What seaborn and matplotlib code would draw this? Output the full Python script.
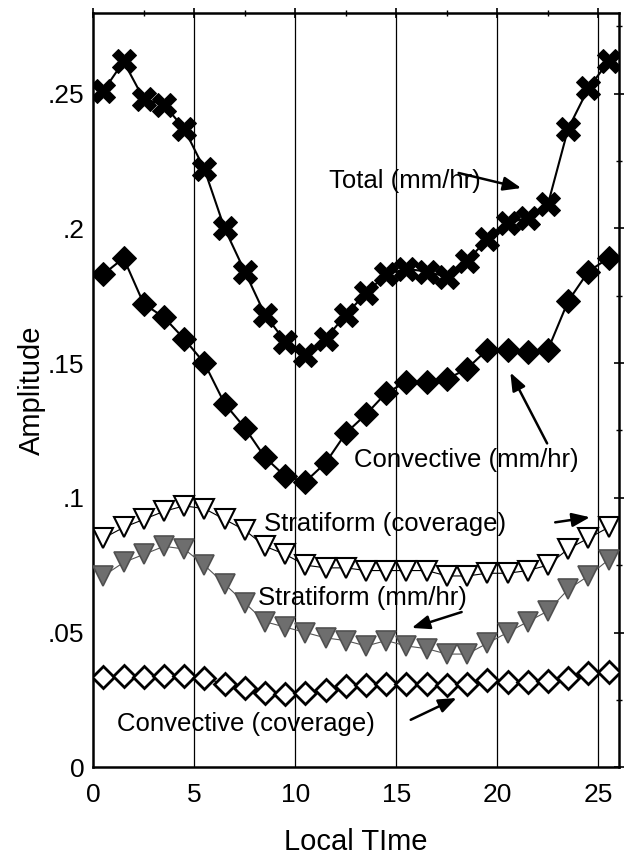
import numpy as np
import pandas as pd
import matplotlib
matplotlib.use("Agg")
import matplotlib.pyplot as plt
import seaborn as sns

# local hour (0.5 .. 23.5, then 24.5 / 25.5 repeat the first two hours)
hours = [0.5, 1.5, 2.5, 3.5, 4.5, 5.5, 6.5, 7.5, 8.5, 9.5, 10.5, 11.5, 12.5,
         13.5, 14.5, 15.5, 16.5, 17.5, 18.5, 19.5, 20.5, 21.5, 22.5, 23.5, 24.5, 25.5]

total_rain = [0.251, 0.262, 0.248, 0.246, 0.237, 0.222, 0.200, 0.184, 0.168, 0.158,
              0.153, 0.159, 0.168, 0.176, 0.183, 0.185, 0.184, 0.182, 0.188, 0.196,
              0.202, 0.204, 0.209, 0.237, 0.252, 0.262]
conv_rain = [0.183, 0.189, 0.172, 0.167, 0.159, 0.150, 0.135, 0.126, 0.115, 0.108,
             0.106, 0.113, 0.124, 0.131, 0.139, 0.143, 0.143, 0.144, 0.148, 0.155,
             0.155, 0.154, 0.155, 0.173, 0.184, 0.189]
strat_cov = [0.085, 0.089, 0.092, 0.095, 0.097, 0.096, 0.092, 0.088, 0.082, 0.079,
             0.075, 0.074, 0.074, 0.073, 0.073, 0.073, 0.073, 0.071, 0.071, 0.072,
             0.072, 0.073, 0.075, 0.081, 0.085, 0.089]
strat_rain = [0.071, 0.076, 0.079, 0.082, 0.081, 0.075, 0.068, 0.061, 0.054, 0.052,
              0.050, 0.048, 0.047, 0.045, 0.047, 0.045, 0.044, 0.042, 0.042, 0.046,
              0.050, 0.054, 0.058, 0.066, 0.071, 0.077]
conv_cov = [0.0335, 0.034, 0.0335, 0.034, 0.034, 0.033, 0.031, 0.0294, 0.0275, 0.027,
            0.0276, 0.0287, 0.030, 0.0306, 0.031, 0.031, 0.031, 0.0306, 0.031, 0.0324,
            0.0317, 0.0317, 0.032, 0.033, 0.035, 0.0354]

yticks = [0, 0.05, 0.1, 0.15, 0.2, 0.25]
ytick_labels = ["0", ".05", ".1", ".15", ".2", ".25"]
xticks = [0, 5, 10, 15, 20, 25]

sns.set_theme(style="white")
plt.rcParams["font.family"] = ["Liberation Sans", "DejaVu Sans"]
plt.rcParams["text.color"] = "black"
plt.rcParams["axes.labelcolor"] = "black"
plt.rcParams["xtick.color"] = "black"
plt.rcParams["ytick.color"] = "black"

fig, ax = plt.subplots(figsize=(6.3, 8.63), dpi=100)
fig.subplots_adjust(left=0.148, right=0.982, top=0.985, bottom=0.111)

for xv in [5, 10, 15, 20, 25]:
    ax.axvline(xv, color="black", lw=0.9, zorder=1)

df = pd.DataFrame({"hour": hours, "total": total_rain, "conv": conv_rain,
                   "scov": strat_cov, "srain": strat_rain, "ccov": conv_cov})

sns.lineplot(data=df, x="hour", y="ccov", ax=ax, color="black", lw=0.8,
             marker="D", markersize=11, markerfacecolor="white",
             markeredgecolor="black", markeredgewidth=2, zorder=3)
sns.lineplot(data=df, x="hour", y="srain", ax=ax, color="#555555", lw=0.8,
             marker="v", markersize=14.5, markerfacecolor="#6e6e6e",
             markeredgecolor="#505050", markeredgewidth=1.2, zorder=3)
sns.lineplot(data=df, x="hour", y="scov", ax=ax, color="black", lw=0.8,
             marker="v", markersize=14.5, markerfacecolor="white",
             markeredgecolor="black", markeredgewidth=1.5, zorder=3)
sns.lineplot(data=df, x="hour", y="conv", ax=ax, color="black", lw=1.5,
             marker="D", markersize=12, markerfacecolor="black",
             markeredgecolor="black", zorder=4)
sns.lineplot(data=df, x="hour", y="total", ax=ax, color="black", lw=1.5,
             marker="X", markersize=17, markerfacecolor="black",
             markeredgecolor="black", zorder=4)

ax.set_xlim(0, 26)
ax.set_ylim(0, 0.28)
ax.set_xticks(xticks)
ax.set_xticks(np.arange(2.5, 26, 5), minor=True)
ax.set_yticks(yticks)
ax.set_yticklabels(ytick_labels)
ax.set_yticks(np.arange(0.025, 0.28, 0.05), minor=True)
ax.tick_params(which="both", direction="inout", color="black", labelcolor="black",
               top=True, right=True, labelsize=19, pad=8)
ax.tick_params(axis="y", which="both", pad=3)
ax.tick_params(which="major", length=7, width=1.2)
ax.tick_params(which="minor", length=5, width=1)
for s in ax.spines.values():
    s.set_color("black")
    s.set_linewidth(1.8)

ax.set_xlabel("Local TIme", fontsize=21, labelpad=15)
ax.set_ylabel("Amplitude", fontsize=21, labelpad=1)

fs = 18.5
arrow = dict(arrowstyle="-|>,head_length=0.9,head_width=0.35", color="black", lw=1.8,
             shrinkA=0, shrinkB=0)
ax.text(11.67, 0.2176, "Total (mm/hr)", fontsize=fs, va="center", zorder=6)
ax.annotate("", xy=(21.18, 0.215), xytext=(18.08, 0.2206), arrowprops=arrow)
ax.text(12.9, 0.1139, "Convective (mm/hr)", fontsize=fs, va="center", zorder=6)
ax.annotate("", xy=(20.64, 0.1465), xytext=(22.46, 0.1202), arrowprops=arrow)
ax.text(8.47, 0.0902, "Stratiform (coverage)", fontsize=fs, va="center", zorder=6)
ax.annotate("", xy=(24.58, 0.0928), xytext=(22.86, 0.0909), arrowprops=arrow)
ax.text(8.13, 0.0628, "Stratiform (mm/hr)", fontsize=fs, va="center", zorder=6)
ax.annotate("", xy=(15.76, 0.0517), xytext=(18.23, 0.0576), arrowprops=arrow)
ax.text(1.18, 0.0161, "Convective (coverage)", fontsize=fs, va="center", zorder=6)
ax.annotate("", xy=(17.98, 0.0257), xytext=(15.71, 0.0176), arrowprops=arrow)

fig.savefig("out.png", dpi=100)
